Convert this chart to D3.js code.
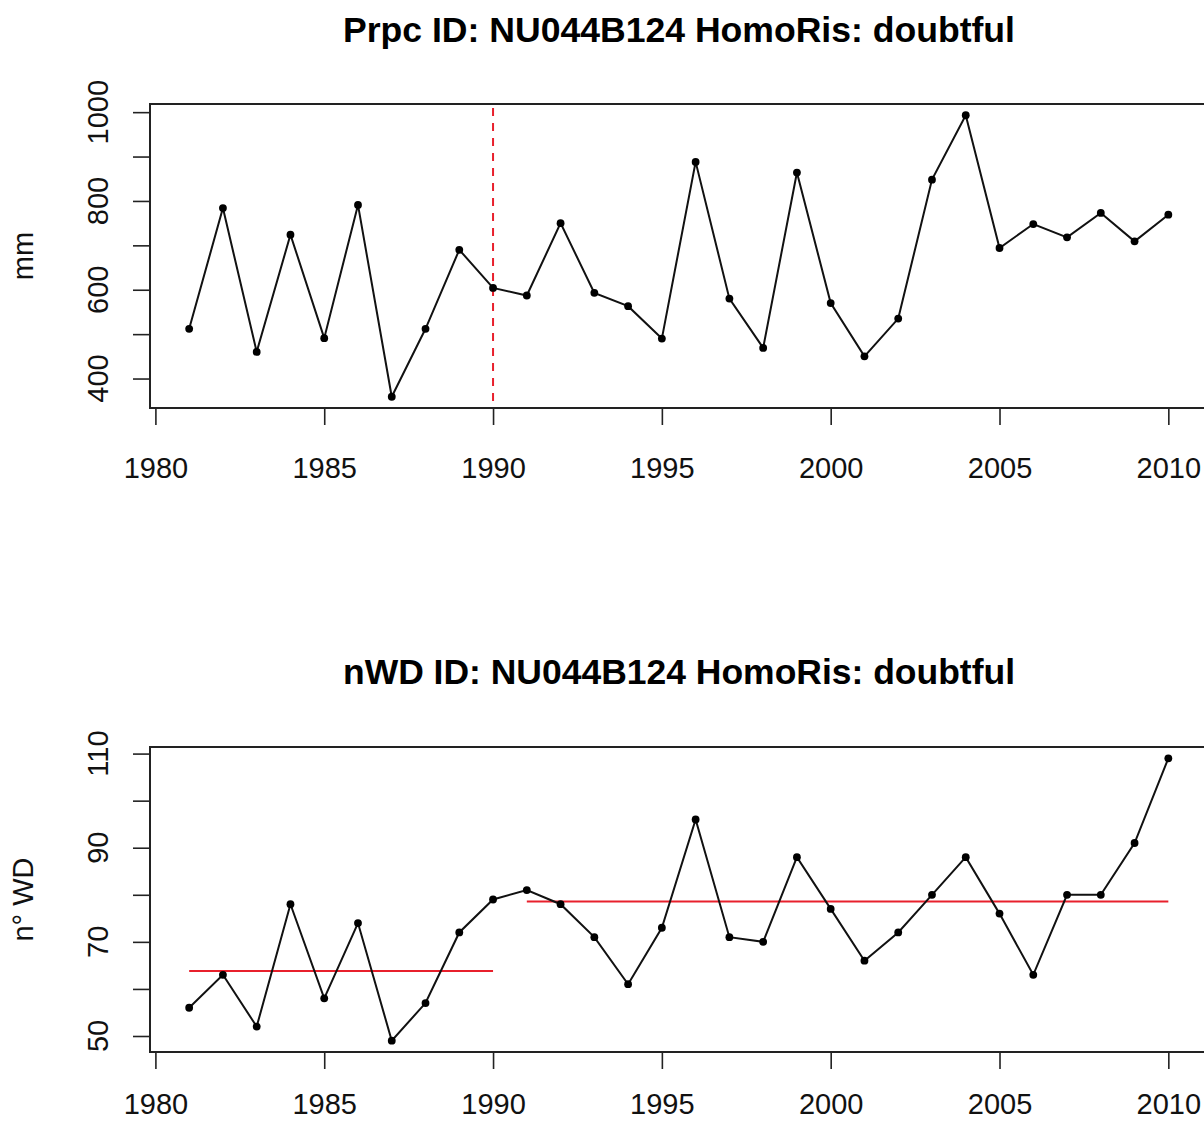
<!DOCTYPE html>
<html>
<head>
<meta charset="utf-8">
<script src="https://cdn.jsdelivr.net/npm/d3@7"></script>
<style>
  html, body { margin: 0; padding: 0; background: #fff; }
  svg { display: block; font-family: "Liberation Sans", Arial, Helvetica, sans-serif; }
</style>
</head>
<body>
<svg id="chart" width="1204" height="1122"></svg>
<script>
// ---- data ----
const years = [1981,1982,1983,1984,1985,1986,1987,1988,1989,1990,
               1991,1992,1993,1994,1995,1996,1997,1998,1999,2000,
               2001,2002,2003,2004,2005,2006,2007,2008,2009,2010];
const prpcValues = [512,784,460,724,491,791,359,512,690,604,
                    587,750,593,563,490,888,580,469,864,570,
                    450,535,848,993,694,748,718,773,709,769];
const nwdValues = [56,63,52,78,58,74,49,57,72,79,
                   81,78,71,61,73,96,71,70,88,77,
                   66,72,80,88,76,63,80,80,91,109];
const breakYears = [1990];
const segStart = [1981, 1991];
const segEnd = [1990, 2010];
const segMean = [63.8, 78.55];
const xTicks = [1980,1985,1990,1995,2000,2005,2010];
const prpcTicks = [400,500,600,700,800,900,1000];
const prpcLabels = [400,600,800,1000];
const nwdTicks = [50,60,70,80,90,100,110];
const nwdLabels = [50,70,90,110];
const titles = ["Prpc ID: NU044B124 HomoRis: doubtful", "nWD ID: NU044B124 HomoRis: doubtful"];
const yLabels = ["mm", "n\u00B0 WD"];

// ---- layout ----
const svg = d3.select("#chart");
const left = 150;
const pad = 0.04;
const xDom = d3.extent(years);
const xSpan = xDom[1] - xDom[0];
const x = d3.scaleLinear()
  .domain([xDom[0] - pad * xSpan, xDom[1] + pad * xSpan])
  .range([left, 1207.5]);

const panels = [
  { top: 104, bottom: 408, title: titles[0], titleY: 42, ylab: yLabels[0], values: prpcValues,
    ticks: prpcTicks, labels: prpcLabels, vlines: breakYears, segs: false, xpad: 32 },
  { top: 747, bottom: 1052, title: titles[1], titleY: 684, ylab: yLabels[1], values: nwdValues,
    ticks: nwdTicks, labels: nwdLabels, vlines: [], segs: true, xpad: 24 }
];

const fontSize = 29;
const red = "#e8202c";

panels.forEach(p => {
  const ext = d3.extent(p.values);
  const span = ext[1] - ext[0];
  const y = d3.scaleLinear()
    .domain([ext[0] - pad * span, ext[1] + pad * span])
    .range([p.bottom, p.top]);
  const g = svg.append("g");

  // title
  g.append("text")
    .attr("x", 679).attr("y", p.titleY)
    .attr("text-anchor", "middle")
    .attr("font-weight", "bold")
    .attr("font-size", 35)
    .attr("textLength", 672)
    .attr("lengthAdjust", "spacingAndGlyphs")
    .text(p.title);

  // box
  g.append("rect")
    .attr("x", left).attr("y", p.top)
    .attr("width", 1207.5 - left).attr("height", p.bottom - p.top)
    .attr("fill", "none").attr("stroke", "#222").attr("stroke-width", 2);

  // x axis
  const xa = g.append("g")
    .attr("transform", `translate(0,${p.bottom})`)
    .call(d3.axisBottom(x).tickValues(xTicks).tickFormat(d3.format("d")).tickSize(17).tickPadding(p.xpad));
  xa.select(".domain").remove();
  xa.selectAll("line").attr("stroke", "#222").attr("stroke-width", 1.6);
  xa.selectAll("text").attr("font-size", fontSize).attr("fill", "#111")
    .attr("font-family", "Liberation Sans, Arial, sans-serif");

  g.append("line")
    .attr("x1", x(xTicks[0])).attr("x2", x(xTicks[xTicks.length - 1]))
    .attr("y1", p.bottom).attr("y2", p.bottom)
    .attr("stroke", "#222").attr("stroke-width", 2);

  // y axis
  const ya = g.append("g")
    .attr("transform", `translate(${left},0)`)
    .call(d3.axisLeft(y).tickValues(p.ticks).tickSize(17).tickFormat(""));
  ya.select(".domain").remove();
  ya.selectAll("line").attr("stroke", "#222").attr("stroke-width", 1.6);
  g.selectAll(".ylab-tick")
    .data(p.labels)
    .enter().append("text")
    .attr("class", "ylab-tick")
    .attr("transform", d => `translate(108,${y(d)}) rotate(-90)`)
    .attr("text-anchor", "middle")
    .attr("font-size", fontSize)
    .attr("fill", "#111")
    .text(d => d);

  // y label
  g.append("text")
    .attr("transform", `translate(33,${(p.top + p.bottom) / 2}) rotate(-90)`)
    .attr("text-anchor", "middle")
    .attr("font-size", fontSize)
    .attr("fill", "#111")
    .text(p.ylab);

  // vertical break lines
  g.selectAll(".vline").data(p.vlines).enter().append("line")
    .attr("x1", d => x(d)).attr("x2", d => x(d))
    .attr("y1", p.top + 4).attr("y2", p.bottom)
    .attr("stroke", red).attr("stroke-width", 2)
    .attr("stroke-dasharray", "8,7");

  // mean segments
  if (p.segs) {
    g.selectAll(".seg").data(segMean).enter().append("line")
      .attr("x1", (d, i) => x(segStart[i])).attr("x2", (d, i) => x(segEnd[i]))
      .attr("y1", d => y(d)).attr("y2", d => y(d))
      .attr("stroke", red).attr("stroke-width", 2);
  }

  // line + points
  const line = d3.line().x((d, i) => x(years[i])).y(d => y(d));
  g.append("path").datum(p.values)
    .attr("d", line).attr("fill", "none")
    .attr("stroke", "#111").attr("stroke-width", 2);
  g.selectAll(".pt").data(p.values).enter().append("circle")
    .attr("cx", (d, i) => x(years[i])).attr("cy", d => y(d))
    .attr("r", 3.9).attr("fill", "#000");
});
</script>
</body>
</html>
